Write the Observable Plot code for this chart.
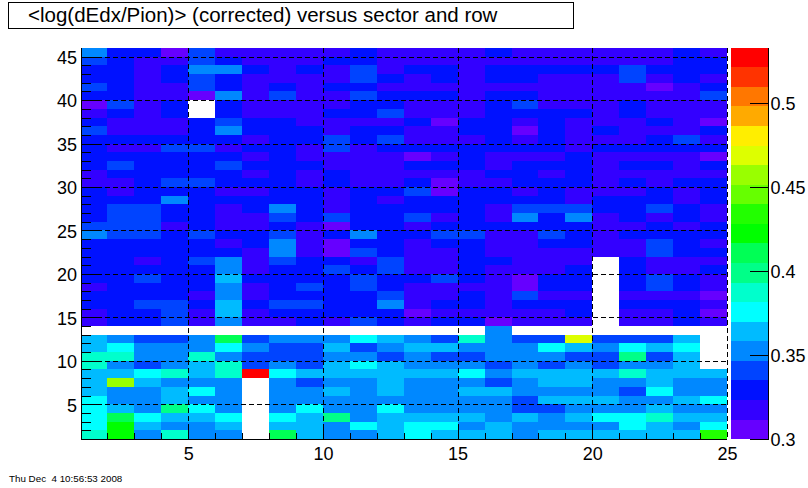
<!DOCTYPE html>
<html>
<head>
<meta charset="utf-8">
<script src="https://cdn.jsdelivr.net/npm/d3@7"></script>
<script src="https://cdn.jsdelivr.net/npm/@observablehq/plot@0.6"></script>
<style>
html,body{margin:0;padding:0;background:#fff;}
#wrap{position:relative;width:808px;height:488px;overflow:hidden;font-family:"Liberation Sans",Arial,sans-serif;}
#wrap svg{position:absolute;top:0;}
#title{position:absolute;left:8px;top:2px;width:566px;height:27px;box-sizing:border-box;border:1px solid #000;font-size:20.5px;line-height:24px;padding-left:19px;color:#000;white-space:pre;}
#stamp{position:absolute;left:9px;top:473px;font-size:9.8px;line-height:12px;color:#000;white-space:pre;}
</style>
</head>
<body>
<div id="wrap">
<div id="title">&lt;log(dEdx/Pion)&gt; (corrected) versus sector and row</div>
<div id="stamp">Thu Dec  4 10:56:53 2008</div>
</div>
<script>
const row01=[.387,.422,.352,.387,.352,.352,null,.411,.364,.352,.352,.364,.376,.364,.364,.364,.352,.364,.364,.364,.364,.364,.364,.434];
const row02=[.376,.422,.364,.352,.352,.364,null,.364,.364,.352,.376,.364,.376,.376,.352,.364,.352,.352,.352,.352,.376,.364,.352,.376];
const row03=[.376,.411,.376,.364,.364,.376,null,.376,.364,.399,.352,.364,.364,.364,.364,.352,.364,.352,.364,.376,.376,.387,.364,.364];
const row04=[.376,.364,.352,.399,.376,.352,null,.352,.376,.352,.352,.376,.352,.352,.352,.352,.341,.341,.352,.352,.352,.364,.352,.352];
const row05=[.376,.352,.352,.364,.352,.352,null,.352,.352,.352,.352,.352,.352,.352,.352,.352,.341,.364,.364,.364,.352,.352,.364,.376];
const row06=[.364,.352,.352,.364,.376,.352,null,.352,.352,.364,.352,.364,.352,.352,.364,.364,.352,.352,.352,.352,.341,.376,.352,.352];
const row07=[.364,.457,.364,.352,.352,.352,null,.352,.341,.352,.352,.364,.352,.352,.352,.341,.352,.364,.364,.352,.352,.364,.352,.352];
const row08=[.364,.364,.376,.387,.364,.387,.527,.376,.364,.364,.364,.364,.364,.364,.376,.352,.364,.364,.364,.364,.387,.364,.364,.364];
const row09=[.387,.352,.341,.352,.364,.387,.341,.352,.341,.364,.376,.364,.352,.352,.352,.341,.352,.341,.352,.341,.352,.352,.364,null];
const row10=[.387,.387,.352,.352,.387,.352,.341,.341,.341,.352,.352,.341,.352,.341,.341,.352,.352,.352,.341,.341,.399,.341,.364,null];
const row11=[.364,.376,.352,.352,.352,.376,.352,.341,.341,.364,.341,.352,.364,.364,.352,.352,.352,.376,.364,.352,.376,.364,.376,null];
const row12=[.364,.352,.341,.341,.352,.411,.341,.352,.352,.352,.376,.364,.352,.341,.387,.352,.341,.341,.469,.341,.341,.341,.364,null];
const row13=[null,null,null,null,null,null,null,null,null,null,null,null,null,null,null,.352,null,null,null,null,null,null,null,null];
const row14=[.318,.329,.329,.341,.318,.352,.318,.318,.329,.318,.341,.329,.318,.329,.329,.306,.318,.318,.318,null,.318,.318,.329,.318];
const row15=[.318,.329,.329,.341,.318,.364,.318,.329,.329,.329,.329,.329,.306,.318,.318,.318,.318,.318,.329,null,.318,.318,.329,.306];
const row16=[.329,.329,.341,.341,.329,.364,.329,.341,.341,.329,.329,.352,.318,.329,.329,.318,.329,.329,.329,null,.329,.329,.329,.318];
const row17=[.329,.329,.329,.329,.318,.352,.318,.329,.329,.329,.329,.341,.318,.318,.329,.318,.341,.318,.318,null,.318,.318,.318,.306];
const row18=[.318,.329,.329,.329,.329,.352,.318,.329,.341,.329,.341,.329,.318,.318,.318,.318,.306,.329,.329,null,.329,.341,.329,.318];
const row19=[.329,.329,.341,.329,.329,.364,.329,.329,.329,.329,.341,.329,.329,.341,.329,.318,.306,.329,.329,null,.329,.341,.329,.318];
const row20=[.329,.329,.329,.329,.329,.352,.318,.329,.329,.341,.329,.341,.318,.318,.329,.318,.318,.318,.329,null,.329,.318,.318,.329];
const row21=[.329,.329,.318,.329,.341,.352,.318,.341,.329,.329,.318,.341,.318,.318,.329,.329,.318,.318,.318,null,.329,.318,.318,.318];
const row22=[.329,.329,.329,.329,.329,.329,.318,.352,.318,.306,.341,.329,.318,.318,.329,.318,.318,.318,.318,.318,.318,.341,.329,.329];
const row23=[.329,.329,.329,.329,.329,.318,.329,.352,.318,.306,.329,.329,.318,.329,.329,.318,.318,.329,.329,.318,.318,.341,.329,.318];
const row24=[.352,.341,.341,.329,.341,.329,.329,.341,.318,.329,.352,.329,.329,.341,.341,.318,.318,.341,.329,.318,.329,.329,.329,.329];
const row25=[.341,.341,.341,.318,.329,.318,.318,.329,.318,.306,.329,.329,.318,.329,.329,.329,.329,.329,.329,.318,.318,.329,.318,.329];
const row26=[.329,.341,.341,.329,.329,.318,.318,.341,.329,.341,.329,.329,.341,.318,.329,.318,.352,.329,.352,.318,.329,.318,.329,.318];
const row27=[.329,.341,.341,.329,.329,.318,.329,.352,.329,.318,.329,.329,.329,.329,.329,.318,.341,.341,.341,.329,.329,.341,.329,.318];
const row28=[.329,.329,.329,.352,.329,.329,.329,.329,.329,.318,.329,.318,.329,.329,.329,.329,.329,.329,.318,.329,.329,.329,.318,.329];
const row29=[.329,.318,.329,.329,.329,.318,.318,.329,.329,.318,.329,.329,.341,.306,.329,.329,.318,.329,.318,.318,.318,.329,.318,.329];
const row30=[.318,.318,.329,.341,.341,.329,.329,.329,.318,.329,.318,.318,.329,.306,.318,.318,.329,.329,.329,.318,.329,.318,.329,.329];
const row31=[.318,.329,.329,.329,.329,.329,.318,.329,.318,.329,.318,.318,.318,.318,.318,.329,.329,.318,.329,.318,.318,.318,.318,.318];
const row32=[.329,.341,.329,.329,.329,.341,.329,.329,.329,.318,.318,.318,.329,.329,.329,.318,.329,.329,.329,.318,.329,.329,.318,.329];
const row33=[.329,.329,.329,.329,.329,.329,.318,.329,.318,.318,.318,.318,.306,.318,.329,.318,.318,.318,.329,.318,.318,.318,.318,.306];
const row34=[.329,.318,.318,.341,.341,.318,.329,.329,.318,.341,.318,.329,.329,.329,.329,.329,.329,.329,.318,.329,.329,.329,.329,.329];
const row35=[.329,.329,.329,.329,.329,.329,.318,.329,.329,.341,.329,.341,.318,.318,.318,.329,.318,.329,.318,.318,.318,.329,.341,.318];
const row36=[.341,.318,.318,.318,.329,.352,.329,.329,.329,.318,.329,.329,.318,.318,.329,.329,.306,.329,.318,.329,.318,.318,.318,.329];
const row37=[.329,.318,.318,.318,.329,.341,.329,.329,.318,.318,.318,.318,.329,.306,.329,.329,.318,.329,.318,.318,.318,.329,.318,.306];
const row38=[.318,.329,.318,.329,null,.329,.318,.318,.318,.329,.329,.341,.318,.318,.318,.329,.329,.329,.329,.318,.329,.318,.318,.318];
const row39=[.306,.341,.318,.329,null,.329,.318,.318,.318,.318,.329,.329,.318,.318,.318,.329,.341,.318,.318,.318,.329,.318,.318,.318];
const row40=[.329,.329,.318,.318,.306,.352,.318,.341,.318,.318,.341,.329,.329,.329,.318,.329,.329,.318,.318,.318,.318,.318,.318,.341];
const row41=[.341,.329,.318,.318,.341,.329,.318,.329,.318,.329,.329,.318,.318,.318,.318,.318,.318,.318,.318,.318,.318,.306,.318,.329];
const row42=[.329,.329,.318,.329,.341,.329,.318,.318,.318,.318,.341,.329,.318,.329,.318,.329,.329,.318,.318,.318,.341,.318,.329,.318];
const row43=[.329,.329,.318,.329,.352,.352,.329,.318,.329,.318,.341,.318,.329,.329,.318,.329,.329,.329,.329,.329,.341,.329,.329,.329];
const row44=[.341,.329,.318,.318,.341,.329,.318,.318,.318,.329,.329,.318,.318,.318,.318,.318,.318,.318,.318,.318,.318,.318,.329,.329];
const row45=[.352,.329,.329,.306,.341,.318,.318,.318,.318,.318,.329,.318,.318,.318,.318,.329,.318,.318,.318,.318,.318,.318,.329,.318];

const rows=[row01,row02,row03,row04,row05,row06,row07,row08,row09,row10,row11,row12,row13,row14,row15,row16,row17,row18,row19,row20,row21,row22,row23,row24,row25,row26,row27,row28,row29,row30,row31,row32,row33,row34,row35,row36,row37,row38,row39,row40,row41,row42,row43,row44,row45];

const thresholds=[.3116,.3233,.3349,.3466,.3582,.3698,.3815,.3931,.4048,.4164,.4280,.4397,.4513,.4630,.4746,.4862,.4979,.5095,.5212];
const palette=["#6600ff","#3300ff","#0011ff","#0044ff","#0088ff","#00bbff","#00ffff","#00ffcc","#00ff88","#00ff55","#00ff00","#22ff00","#66ff00","#99ff00","#ddff00","#ffee00","#ffaa00","#ff7700","#ff3300","#ff0000"];
const barBottom=.3, barTop=.5327;
const xMajor=[5,10,15,20,25], xMinor=d3.range(1,25);
const yMajor=[5,10,15,20,25,30,35,40,45], yMinor=d3.range(1,46);
const barTicks=[.3,.35,.4,.45,.5];

const cells=[];
rows.forEach((r,i)=>r.forEach((v,j)=>{ if(v!=null) cells.push({sector:j+1,row:i+1,value:v}); }));
const colorScale={type:"threshold",domain:thresholds,range:palette};
const edges=[barBottom,...thresholds,barTop];
const barCells=palette.map((c,i)=>({lo:edges[i],hi:edges[i+1],value:(edges[i]+edges[i+1])/2}));

const common={fontFamily:"'Liberation Sans',Arial,sans-serif",background:"transparent",color:"#000",overflow:"visible"};
const wrap=document.getElementById("wrap");
const crisp={shapeRendering:"crispEdges"};

const main=Plot.plot({
  width:730,height:488,marginLeft:80.5,marginRight:3,marginTop:48,marginBottom:49,
  style:common,
  x:{domain:[1,25],axis:null},
  y:{domain:[1,46],axis:null},
  color:{...colorScale},
  marks:[
    Plot.rect(cells,{x1:"sector",x2:d=>d.sector+1,y1:"row",y2:d=>d.row+1,fill:"value",...crisp}),
    Plot.ruleX(xMajor,{stroke:"#000",strokeWidth:1,strokeDasharray:"5 3",...crisp}),
    Plot.ruleY(yMajor,{stroke:"#000",strokeWidth:1,strokeDasharray:"5 3",...crisp}),
    Plot.axisX(xMinor,{anchor:"bottom",tickSize:-6,tickFormat:()=>"",label:null,stroke:"#000",...crisp}),
    Plot.axisX([5,10,15,20],{anchor:"bottom",tickSize:-12,tickFormat:()=>"",label:null,stroke:"#000",...crisp}),
    Plot.axisY(yMinor,{anchor:"left",tickSize:-10,tickFormat:()=>"",label:null,stroke:"#000",...crisp}),
    Plot.axisY(yMajor,{anchor:"left",tickSize:-21,tickFormat:()=>"",label:null,stroke:"#000",...crisp}),
    Plot.axisX(xMajor,{anchor:"bottom",tickSize:0,tickPadding:8,fontSize:18,label:null,fill:"#000"}),
    Plot.axisY(yMajor,{anchor:"left",tickSize:0,tickPadding:4,fontSize:18,label:null,fill:"#000",dy:1}),
    Plot.ruleX([1],{stroke:"#000",...crisp}),
    Plot.ruleY([1],{stroke:"#000",...crisp})
  ]
});
main.style.left="0px";
wrap.appendChild(main);

const bar=Plot.plot({
  width:78,height:488,marginLeft:1,marginRight:40,marginTop:48,marginBottom:49,
  style:common,
  x:{domain:[0,1],axis:null},
  y:{domain:[barBottom,barTop],axis:null},
  color:{...colorScale},
  marks:[
    Plot.rect(barCells,{x1:()=>0,x2:()=>1,y1:"lo",y2:"hi",fill:"value",...crisp}),
    Plot.axisY(barTicks,{anchor:"right",tickSize:-19,tickFormat:()=>"",label:null,stroke:"#000",...crisp}),
    Plot.axisY(barTicks,{anchor:"right",tickSize:0,tickPadding:2,fontSize:18,label:null,fill:"#000",dy:1,tickFormat:d=>String(d)}),
    Plot.ruleX([1],{stroke:"#000",...crisp})
  ]
});
bar.style.left="730px";
wrap.appendChild(bar);
</script>
</body>
</html>
